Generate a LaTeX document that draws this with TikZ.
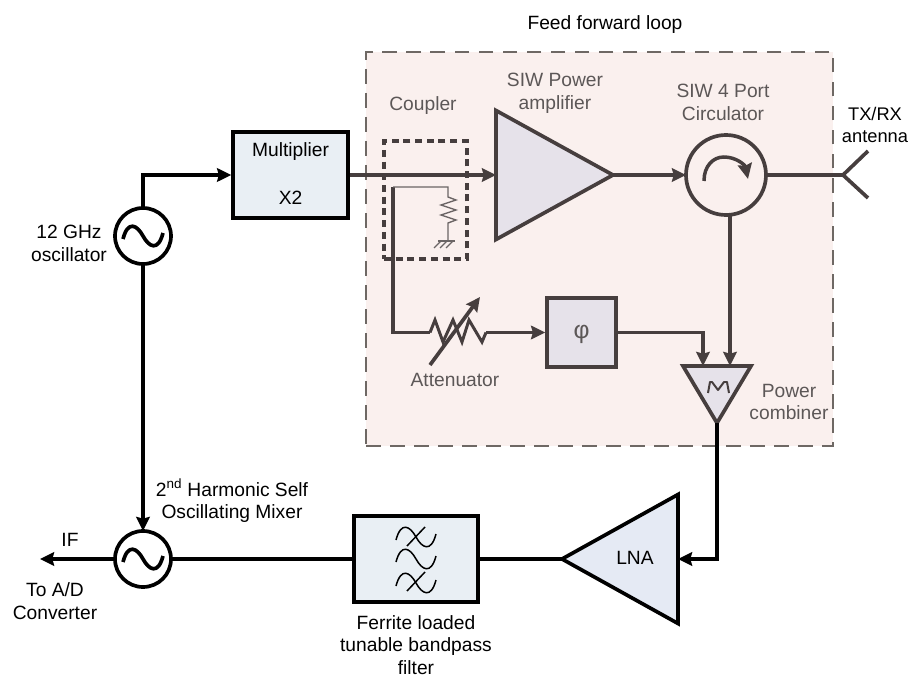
\documentclass[tikz,border=0pt]{standalone}
\usepackage{fontspec}
\setmainfont{Liberation Sans}
\usetikzlibrary{arrows.meta,shapes.geometric}
\definecolor{loopfill}{HTML}{FAF0EE}
\definecolor{dashgray}{HTML}{6E6864}
\definecolor{wire}{HTML}{463E3E}
\definecolor{inktext}{HTML}{5C5757}
\definecolor{multfill}{HTML}{E9EFF4}
\definecolor{ampfill}{HTML}{E6E2EA}
\definecolor{lnafill}{HTML}{E5EAF4}
\tikzset{
  px/.style={line width=#1*0.85pt},
  outer/.style={draw=black, px=3.7},
  inner/.style={draw=wire, px=3.7},
  tip/.style={-{Stealth[length=12pt, width=11.5pt, inset=1.5pt]}},
  lbl/.style={align=center, inner sep=0pt, font=\fontsize{16.4}{19.5}\selectfont, text=#1},
  lbl/.default=inktext,
  sourcecirc/.style={circle, outer, fill=white, minimum size=1.68cm, inner sep=0pt, outer sep=0pt},
  tri/.style={isosceles triangle, isosceles triangle stretches, inner sep=0pt, outer sep=0pt, line join=miter},
  sinewave/.pic={
    \draw (-20,3) .. controls (-15,-16) and (-6,-11) .. (0,0) .. controls (6,11) and (15,16) .. (20,-3);
  }
}
\begin{document}
\begin{tikzpicture}[x=0.03cm, y=-0.03cm]
  \useasboundingbox (0,0) rectangle (912,677);

  % feed forward region
  \node[draw=dashgray, fill=loopfill, px=1.9, dash pattern=on 12.5pt off 8pt, minimum width=14.01cm, minimum height=11.82cm, inner sep=0pt] (loop) at (599.5,249) {};
  \node[lbl=black] (looplbl) at (605,25) {Feed forward loop};

  % blocks
  \node[sourcecirc] (osc) at (143,236) {};
  \node[sourcecirc] (mix) at (143,559) {};
  \node[outer, fill=multfill, minimum width=3.45cm, minimum height=2.58cm, inner sep=0pt] (mult) at (290.5,175) {};
  \node[tri, inner, fill=ampfill, minimum width=3.87cm, minimum height=3.51cm, anchor=apex] (amp) at (613,175) {};
  \node[circle, inner, fill=loopfill, minimum size=2.4cm, inner sep=0pt, outer sep=0pt] (circ) at (726,175) {};
  \node[inner, fill=ampfill, minimum width=2.07cm, minimum height=2.07cm, inner sep=0pt] (phase) at (581.5,332.5) {};
  \node[tri, inner, fill=ampfill, shape border rotate=-90, minimum width=2.04cm, minimum height=1.71cm, anchor=apex] (comb) at (717,423) {};
  \node[tri, outer, fill=lnafill, shape border rotate=180, minimum width=3.87cm, minimum height=3.48cm, anchor=apex] (lna) at (562,559) {};
  \node[outer, fill=multfill, minimum width=3.72cm, minimum height=2.58cm, inner sep=0pt] (filt) at (416,559) {};
  \node[draw=wire, px=3.2, dash pattern=on 6pt off 4pt, minimum width=2.49cm, minimum height=3.54cm, inner sep=0pt] (coup) at (425.5,200) {};

  % free ends
  \coordinate (corner) at (143,175);
  \coordinate (ifend) at (40,559);
  \coordinate (ant) at (843,175);
  \coordinate (armup) at (868,151);
  \coordinate (armdn) at (868,198);
  \coordinate (tap) at (393,187);
  \coordinate (bend) at (393,332.5);
  \coordinate (attin) at (430,332.5);
  \coordinate (attout) at (486,332.5);
  \coordinate (inphase) at (703,366);
  \coordinate (incirc) at (730,366);
  \coordinate (down) at (717,559);
  \coordinate (res) at (448,187);
  \coordinate (gnd) at (448,241);

  % wires
  \draw[outer, tip] (osc.north) -- (corner) -- (mult.west);
  \draw[outer, tip] (osc.south) -- (mix.north);
  \draw[outer, tip] (mix.west) -- (ifend);
  \draw[outer] (mix.east) -- (filt.west);
  \draw[outer] (filt.east) -- (lna.apex);
  \draw[inner, tip] (mult.east) -- (amp.lower side);
  \draw[inner, tip] (amp.apex) -- (circ.west);
  \draw[inner] (circ.east) -- (ant);
  \draw[inner, line join=miter] (armup) -- (ant) -- (armdn);
  \draw[inner, tip] (circ.south -| incirc) -- (incirc);
  \draw[inner, tip] (phase.east) -| (inphase);
  \draw[outer, tip] (comb.apex) -- (down) -- (lna.lower side);
  \draw[inner] (tap) -- (bend) -- (attin);
  \draw[inner, tip] (attout) -- (phase.west);

  % attenuator
  \draw[inner, px=3, line join=miter] (attin) -- (435,320) -- (443,342) -- (453,320) -- (462,342) -- (469,320) -- (482,342) -- (attout);
  \draw[inner, tip] (430,365) -- (480,297);

  % coupler load
  \draw[draw=wire!80!white, px=1.4] (tap) -- (res) -- (448,197) -- (456,200) -- (441,205) -- (456,210) -- (441,215) -- (456,220) -- (448,223) -- (gnd);
  \draw[draw=wire!80!white, px=1.4] (438,241) -- (455,241);
  \draw[draw=wire!80!white, px=1.4] (441,241) -- (434,248);
  \draw[draw=wire!80!white, px=1.4] (447,241) -- (440,248);
  \draw[draw=wire!80!white, px=1.4] (453,241) -- (446,248);

  % symbols
  \pic[px=3.7] at (osc) {sinewave};
  \pic[px=3.7] at (mix) {sinewave};
  \pic[px=1.5] at (416,537) {sinewave};
  \pic[px=1.5] at (416,559) {sinewave};
  \pic[px=1.5] at (416,583) {sinewave};
  \draw[px=1.5] (407,546) -- (425,527);
  \draw[px=1.5] (407,591) -- (425,572);
  \draw[draw=wire, px=3.5, -{Stealth[length=13pt, width=12pt, inset=1.5pt]}] (704,181) .. controls (704,166) and (713,157) .. (724,157) .. controls (736,157) and (745,165) .. (748,179);
  \draw[draw=wire, px=2, line join=round] (708,393) -- (710,382) -- (712,382) -- (718,390) -- (724,382) -- (727,382) -- (729,393);

  % text
  \node[lbl=black] (osclbl) at (69,243) {12 GHz\\oscillator};
  \node[lbl=black] (multlbl) at (290.5,152) {Multiplier};
  \node[lbl=black] (xlbl) at (290.5,198) {X2};
  \node[lbl] (couplbl) at (423,106) {Coupler};
  \node[lbl] (amplbl) at (555,93) {SIW Power\\amplifier};
  \node[lbl] (circlbl) at (723,102) {SIW 4 Port\\Circulator};
  \node[lbl=black, font=\fontsize{15.6}{19.5}\selectfont] (antlbl) at (875,125) {TX/RX\\antenna};
  \node[lbl] (attlbl) at (455,380) {Attenuator};
  \node[lbl, font=\fontsize{21}{24}\selectfont] (phaselbl) at (581.5,334) {φ};
  \node[lbl] (comblbl) at (789,402) {Power\\combiner};
  \node[lbl=black] (lnalbl) at (635,558) {LNA};
  \node[lbl=black] (mixlbl) at (232,501) {2\textsuperscript{nd} Harmonic Self\\Oscillating Mixer};
  \node[lbl=black] (iflbl) at (70,540) {IF};
  \node[lbl=black] (adlbl) at (55,601) {To A/D\\Converter};
  \node[lbl=black] (filtlbl) at (416,645) {Ferrite loaded\\tunable bandpass\\filter};
\end{tikzpicture}
\end{document}
